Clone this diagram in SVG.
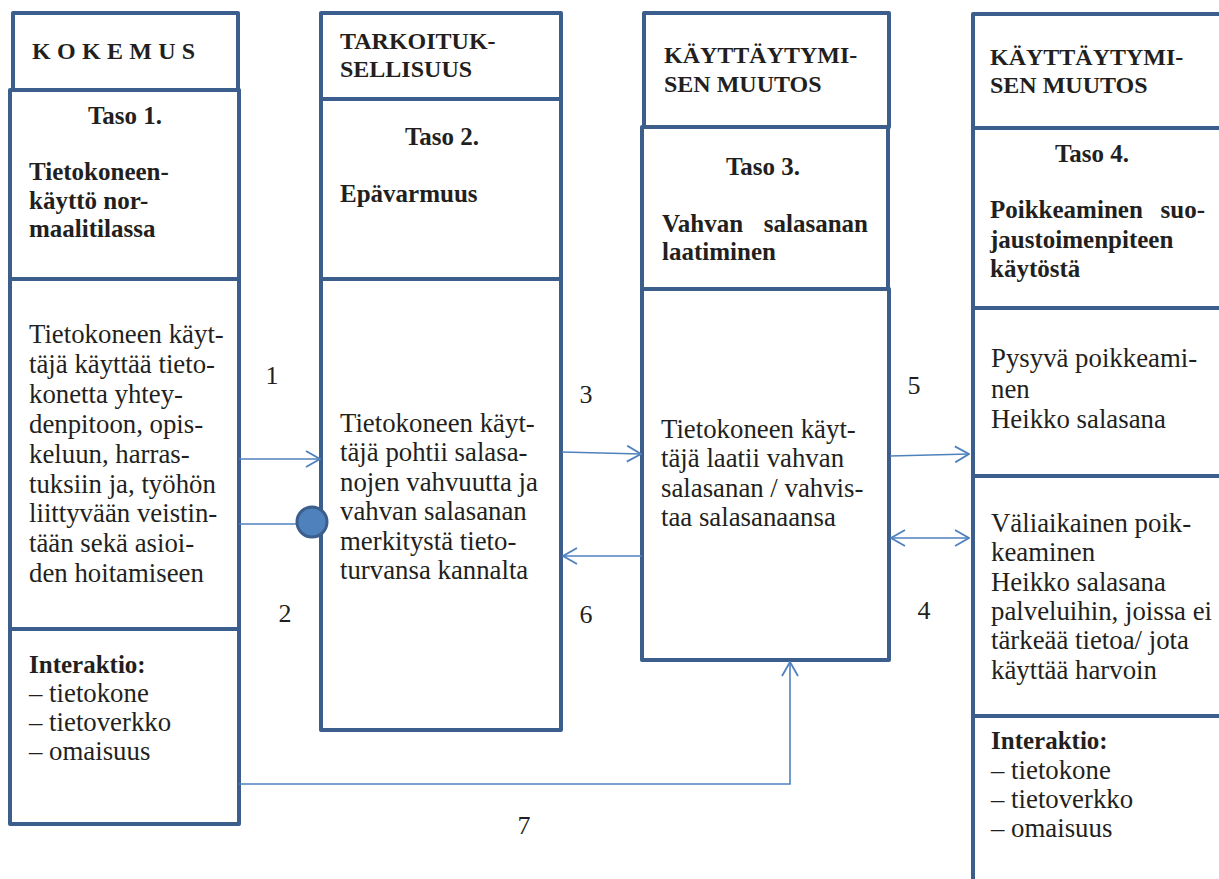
<svg xmlns="http://www.w3.org/2000/svg" width="1219" height="879" viewBox="0 0 1219 879">
  <style>
    .box { fill: #ffffff; stroke: #3b5e8d; stroke-width: 4; stroke-linejoin: round; }
    .cap { font-family: 'Liberation Serif', 'DejaVu Serif', serif; font-weight: bold; font-size: 24px; fill: #231f20; }
    .hd { font-family: 'Liberation Serif', 'DejaVu Serif', serif; font-weight: bold; font-size: 25px; fill: #231f20; }
    .tx { font-family: 'Liberation Serif', 'DejaVu Serif', serif; font-size: 26.8px; fill: #231f20; }
    .num { font-family: 'Liberation Serif', 'DejaVu Serif', serif; font-size: 26px; fill: #231f20; }
    .conn { fill: none; stroke: #4f81bd; stroke-width: 1.6; }
  </style>
  <defs>
    <marker id="chev" viewBox="0 0 16 18" refX="15" refY="9" markerWidth="16" markerHeight="18" markerUnits="userSpaceOnUse" orient="auto-start-reverse">
      <path d="M1,1 L15,9 L1,17" fill="none" stroke="#4f81bd" stroke-width="1.8"/>
    </marker>
  </defs>
  <rect width="1219" height="879" fill="#ffffff"/>

  <!-- Column 1: KOKEMUS -->
  <g id="kokemus">
    <rect class="box" x="13" y="13" width="225" height="77"/>
    <text class="cap" x="32" y="59" letter-spacing="6.3">KOKEMUS</text>
  </g>
  <g id="taso1">
    <rect class="box" x="10" y="90" width="229" height="189"/>
    <text class="hd" x="125" y="124" text-anchor="middle">Taso 1.</text>
    <text class="hd" x="29" y="180">Tietokoneen-</text>
    <text class="hd" x="29" y="209">käyttö nor-</text>
    <text class="hd" x="29" y="237">maalitilassa</text>
  </g>
  <g id="kuvaus1">
    <rect class="box" x="10" y="279" width="229" height="350"/>
    <text class="tx" x="29" y="343">Tietokoneen käyt-</text>
    <text class="tx" x="29" y="372.9">täjä käyttää tieto-</text>
    <text class="tx" x="29" y="402.8">konetta yhtey-</text>
    <text class="tx" x="29" y="432.7">denpitoon, opis-</text>
    <text class="tx" x="29" y="462.6">keluun, harras-</text>
    <text class="tx" x="29" y="492.5">tuksiin ja, työhön</text>
    <text class="tx" x="29" y="522.4">liittyvään veistin-</text>
    <text class="tx" x="29" y="552.3">tään sekä asioi-</text>
    <text class="tx" x="29" y="582.2">den hoitamiseen</text>
  </g>
  <g id="interaktio1">
    <rect class="box" x="10" y="629" width="229" height="195"/>
    <text class="hd" x="29" y="673">Interaktio:</text>
    <text class="tx" x="29" y="702">– tietokone</text>
    <text class="tx" x="29" y="731">– tietoverkko</text>
    <text class="tx" x="29" y="760">– omaisuus</text>
  </g>

  <!-- Column 2: TARKOITUKSELLISUUS -->
  <g id="tarkoituksellisuus">
    <rect class="box" x="321" y="13" width="240" height="86"/>
    <text class="cap" x="340" y="49">TARKOITUK-</text>
    <text class="cap" x="340" y="77">SELLISUUS</text>
  </g>
  <g id="taso2">
    <rect class="box" x="321" y="99" width="240" height="180"/>
    <text class="hd" x="442" y="145" text-anchor="middle">Taso 2.</text>
    <text class="hd" x="340" y="202">Epävarmuus</text>
  </g>
  <g id="kuvaus2">
    <rect class="box" x="321" y="279" width="240" height="451"/>
    <text class="tx" x="340" y="432">Tietokoneen käyt-</text>
    <text class="tx" x="340" y="461.4">täjä pohtii salasa-</text>
    <text class="tx" x="340" y="490.8">nojen vahvuutta ja</text>
    <text class="tx" x="340" y="520.2">vahvan salasanan</text>
    <text class="tx" x="340" y="549.6">merkitystä tieto-</text>
    <text class="tx" x="340" y="579">turvansa kannalta</text>
  </g>

  <!-- Column 3: KÄYTTÄYTYMISEN MUUTOS -->
  <g id="muutos3">
    <rect class="box" x="644" y="13" width="245" height="114"/>
    <text class="cap" x="664" y="63">KÄYTTÄYTYMI-</text>
    <text class="cap" x="664" y="92">SEN MUUTOS</text>
  </g>
  <g id="taso3">
    <rect class="box" x="642" y="127" width="246" height="162"/>
    <text class="hd" x="763" y="175" text-anchor="middle">Taso 3.</text>
    <text class="hd" x="662" y="232">Vahvan</text>
    <text class="hd" x="868" y="232" text-anchor="end">salasanan</text>
    <text class="hd" x="662" y="260">laatiminen</text>
  </g>
  <g id="kuvaus3">
    <rect class="box" x="642" y="289" width="247" height="371"/>
    <text class="tx" x="661" y="438">Tietokoneen käyt-</text>
    <text class="tx" x="661" y="467.3">täjä laatii vahvan</text>
    <text class="tx" x="661" y="496.6">salasanan / vahvis-</text>
    <text class="tx" x="661" y="525.9">taa salasanaansa</text>
  </g>

  <!-- Column 4: KÄYTTÄYTYMISEN MUUTOS, taso 4 -->
  <g id="muutos4">
    <rect class="box" x="973" y="14" width="260" height="114"/>
    <text class="cap" x="990" y="65">KÄYTTÄYTYMI-</text>
    <text class="cap" x="990" y="93">SEN MUUTOS</text>
  </g>
  <g id="taso4">
    <rect class="box" x="973" y="128" width="260" height="180"/>
    <text class="hd" x="1092" y="162" text-anchor="middle">Taso 4.</text>
    <text class="hd" x="990" y="218">Poikkeaminen</text>
    <text class="hd" x="1205" y="218" text-anchor="end">suo-</text>
    <text class="hd" x="990" y="248">jaustoimenpiteen</text>
    <text class="hd" x="990" y="277">käytöstä</text>
  </g>
  <g id="pysyva">
    <rect class="box" x="973" y="308" width="260" height="168"/>
    <text class="tx" x="991" y="367">Pysyvä poikkeami-</text>
    <text class="tx" x="991" y="397.5">nen</text>
    <text class="tx" x="991" y="428">Heikko salasana</text>
  </g>
  <g id="valiaikainen">
    <rect class="box" x="973" y="476" width="260" height="240"/>
    <text class="tx" x="991" y="532">Väliaikainen poik-</text>
    <text class="tx" x="991" y="561.3">keaminen</text>
    <text class="tx" x="991" y="590.6">Heikko salasana</text>
    <text class="tx" x="991" y="619.9">palveluihin, joissa ei</text>
    <text class="tx" x="991" y="649.2">tärkeää tietoa/ jota</text>
    <text class="tx" x="991" y="678.5">käyttää harvoin</text>
  </g>
  <g id="interaktio4">
    <rect class="box" x="973" y="716" width="260" height="200"/>
    <text class="hd" x="991" y="749">Interaktio:</text>
    <text class="tx" x="991" y="779">– tietokone</text>
    <text class="tx" x="991" y="808">– tietoverkko</text>
    <text class="tx" x="991" y="837">– omaisuus</text>
  </g>

  <!-- Connectors between levels -->
  <g id="connectors">
    <path class="conn" d="M239,459 L320,459" marker-end="url(#chev)"/>
    <path class="conn" d="M239,524 L298,524"/>
    <circle cx="312" cy="522" r="15" fill="#4f81bd" stroke="#3b5e8d" stroke-width="3"/>
    <path class="conn" d="M562,452 L641,454" marker-end="url(#chev)"/>
    <path class="conn" d="M642,556 L563,556" marker-end="url(#chev)"/>
    <path class="conn" d="M890,456 L969,454" marker-end="url(#chev)"/>
    <path class="conn" d="M891,538 L969,538" marker-start="url(#chev)" marker-end="url(#chev)"/>
    <path class="conn" d="M239,784 L790,784 L790,662" marker-end="url(#chev)"/>
  </g>

  <!-- Connector numbers -->
  <g id="labels">
    <text class="num" x="272" y="384" text-anchor="middle">1</text>
    <text class="num" x="285" y="622" text-anchor="middle">2</text>
    <text class="num" x="586" y="403" text-anchor="middle">3</text>
    <text class="num" x="586" y="623" text-anchor="middle">6</text>
    <text class="num" x="914" y="394" text-anchor="middle">5</text>
    <text class="num" x="924" y="619" text-anchor="middle">4</text>
    <text class="num" x="524" y="834" text-anchor="middle">7</text>
  </g>
</svg>
